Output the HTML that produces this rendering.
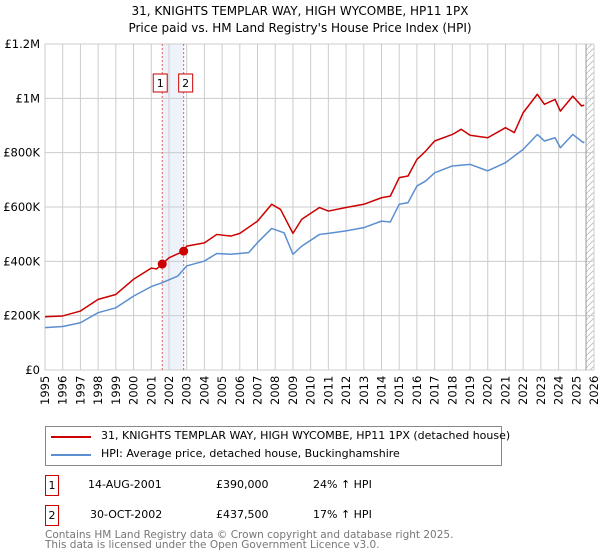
<!DOCTYPE html>
<html><head><meta charset="utf-8"><style>
body{margin:0;background:#fff;font-family:"DejaVu Sans","Liberation Sans",sans-serif;}
#wrap{position:relative;width:600px;height:560px;overflow:hidden}
.t{position:absolute;font-size:11px;color:#000;white-space:nowrap}
</style></head><body><div id="wrap">
<div class="t" style="left:0;width:600px;text-align:center;top:4px;font-size:12px">31, KNIGHTS TEMPLAR WAY, HIGH WYCOMBE, HP11 1PX</div>
<div class="t" style="left:0;width:600px;text-align:center;top:21px;font-size:12px">Price paid vs. HM Land Registry's House Price Index (HPI)</div>
<svg id="chart" width="600" height="420" style="position:absolute;left:0;top:0"></svg>
<div style="position:absolute;left:45px;top:426px;width:457px;height:40px;border:1px solid #888;box-sizing:border-box">
<div><span style="position:absolute;left:5px;top:9px;width:40px;height:2px;background:#cc0000"></span><span class="t" style="left:55px;top:2px">31, KNIGHTS TEMPLAR WAY, HIGH WYCOMBE, HP11 1PX (detached house)</span></div>
<div><span style="position:absolute;left:5px;top:27px;width:40px;height:2px;background:#5b8fd0"></span><span class="t" style="left:55px;top:20px">HPI: Average price, detached house, Buckinghamshire</span></div>
</div>
<div>
<div class="t" style="left:45px;top:475px;width:12px;height:19px;border:1px solid #cc0000;text-align:center;line-height:19px">1</div>
<div class="t" style="left:88px;top:478px">14-AUG-2001</div><div class="t" style="left:216px;top:478px">£390,000</div><div class="t" style="left:313px;top:478px">24% ↑ HPI</div></div>
<div>
<div class="t" style="left:45px;top:505px;width:12px;height:19px;border:1px solid #cc0000;text-align:center;line-height:19px">2</div>
<div class="t" style="left:90px;top:508px">30-OCT-2002</div><div class="t" style="left:216px;top:508px">£437,500</div><div class="t" style="left:313px;top:508px">17% ↑ HPI</div></div>
<div class="t" style="left:45px;top:530px;color:#777;line-height:10px;font-size:10.5px">Contains HM Land Registry data © Crown copyright and database right 2025.<br>This data is licensed under the Open Government Licence v3.0.</div>
</div>
<script>
const redYears=[1995,1996,1997,1998,1999,2000,2001,2001.3,2001.62,2002,2002.83,2003,2004,2004.7,2005.5,2006,2007,2007.8,2008.3,2009,2009.5,2010.5,2011,2012,2013,2014,2014.5,2015,2015.5,2016,2016.5,2017,2018,2018.5,2019,2020,2021,2021.5,2022,2022.8,2023.2,2023.8,2024.1,2024.8,2025.3,2025.45];
const redValues=[196,199,217,260,278,334,375,372,390,413,437.5,456,468,499,493,503,548,610,591,503,555,598,585,598,610,634,640,708,714,775,806,843,867,886,864,855,892,874,947,1015,978,996,953,1008,972,975];
const hpiYears=[1995,1996,1997,1998,1999,2000,2001,2001.6,2002.5,2003,2004,2004.7,2005.5,2006.5,2007,2007.8,2008.5,2009,2009.5,2010.5,2011,2012,2013,2014,2014.5,2015,2015.5,2016,2016.5,2017,2018,2019,2020,2021,2022,2022.8,2023.2,2023.8,2024.1,2024.8,2025.4,2025.45];
const hpiValues=[156,160,174,211,229,272,307,321,346,383,401,429,426,432,469,521,505,426,456,499,503,512,524,548,545,610,616,677,696,726,751,757,733,763,812,867,843,855,818,867,837,840];
const saleYears=[2001.62,2002.83];
const saleValues=[390,437.5];
const saleLabels=["1","2"];
const yTicks=[0,200,400,600,800,1000,1200];
const yTickLabels=["£0","£200K","£400K","£600K","£800K","£1M","£1.2M"];
const xStart=1995,xEnd=2026;
const L=45,R=594,T=44,B=370;
const X=y=>L+(y-xStart)/(xEnd-xStart)*(R-L);
const Y=v=>B-v/1200*(B-T);
const NS="http://www.w3.org/2000/svg";
const svg=document.getElementById('chart');
function mk(tag,attrs,parent){const e=document.createElementNS(NS,tag);for(const k in attrs)e.setAttribute(k,attrs[k]);(parent||svg).appendChild(e);return e;}
const defs=mk('defs',{});
const pat=mk('pattern',{id:'h',width:6,height:6,patternUnits:'userSpaceOnUse'},defs);
mk('path',{d:'M0,6L6,0',stroke:'#bbb','stroke-width':0.8},pat);
const sh=mk('rect',{x:X(saleYears[0]),y:T,width:X(saleYears[1])-X(saleYears[0]),height:B-T,fill:'#eef2fb'});


const hz=mk('rect',{x:X(2025.55),y:T,width:R-X(2025.55),height:B-T,fill:'url(#h)'});


for(let yr=xStart;yr<=xEnd;yr++){
  const g=mk('line',{x1:X(yr),x2:X(yr),y1:T,y2:B,stroke:'#ccc','stroke-width':1});
  
  
  const t=mk('text',{x:0,y:0,transform:`translate(${X(yr)+4},${B+35}) rotate(-90)`,'font-size':11.5,'font-family':'DejaVu Sans, Liberation Sans, sans-serif'});
  t.textContent=yr;
  
  
}
yTicks.forEach((v,i)=>{
  const g=mk('line',{x1:L,x2:R,y1:Y(v),y2:Y(v),stroke:'#ccc','stroke-width':1});
  
  
  const t=mk('text',{x:L-5,y:Y(v)+4,'text-anchor':'end','font-size':11.5,'font-family':'DejaVu Sans, Liberation Sans, sans-serif'});
  t.textContent=yTickLabels[i];
  
  
});
const edge=mk('line',{x1:X(2025.55),x2:X(2025.55),y1:T,y2:B,stroke:'#999','stroke-width':1});


saleYears.forEach((yr,i)=>{
  const d=mk('line',{x1:X(yr),x2:X(yr),y1:T,y2:B,stroke:'#e06060','stroke-width':1,'stroke-dasharray':'2,2'});
  
  
  const bx=mk('rect',{x:X(yr)-7-(i==0?2:-2),y:74,width:14,height:18,fill:'#fff',stroke:'#cc0000'});
  
  
  const bt=mk('text',{x:X(yr)-(i==0?2:-2),y:87,'text-anchor':'middle','font-size':11,'font-family':'DejaVu Sans, sans-serif'});
  bt.textContent=saleLabels[i];
});
function line(xs,vs,color,name){
  const p=mk('polyline',{points:xs.map((x,i)=>X(x)+','+Y(vs[i])).join(' '),fill:'none',stroke:color,'stroke-width':1.5,'stroke-linejoin':'round'});
  
  
}
line(hpiYears,hpiValues,'#5b8fd0','hpi-line');
line(redYears,redValues,'#cc0000','property-price-line');
saleYears.forEach((yr,i)=>{
  const c=mk('circle',{cx:X(yr),cy:Y(saleValues[i]),r:4.5,fill:'#cc0000'});
  
  
});
</script>
</body></html>
